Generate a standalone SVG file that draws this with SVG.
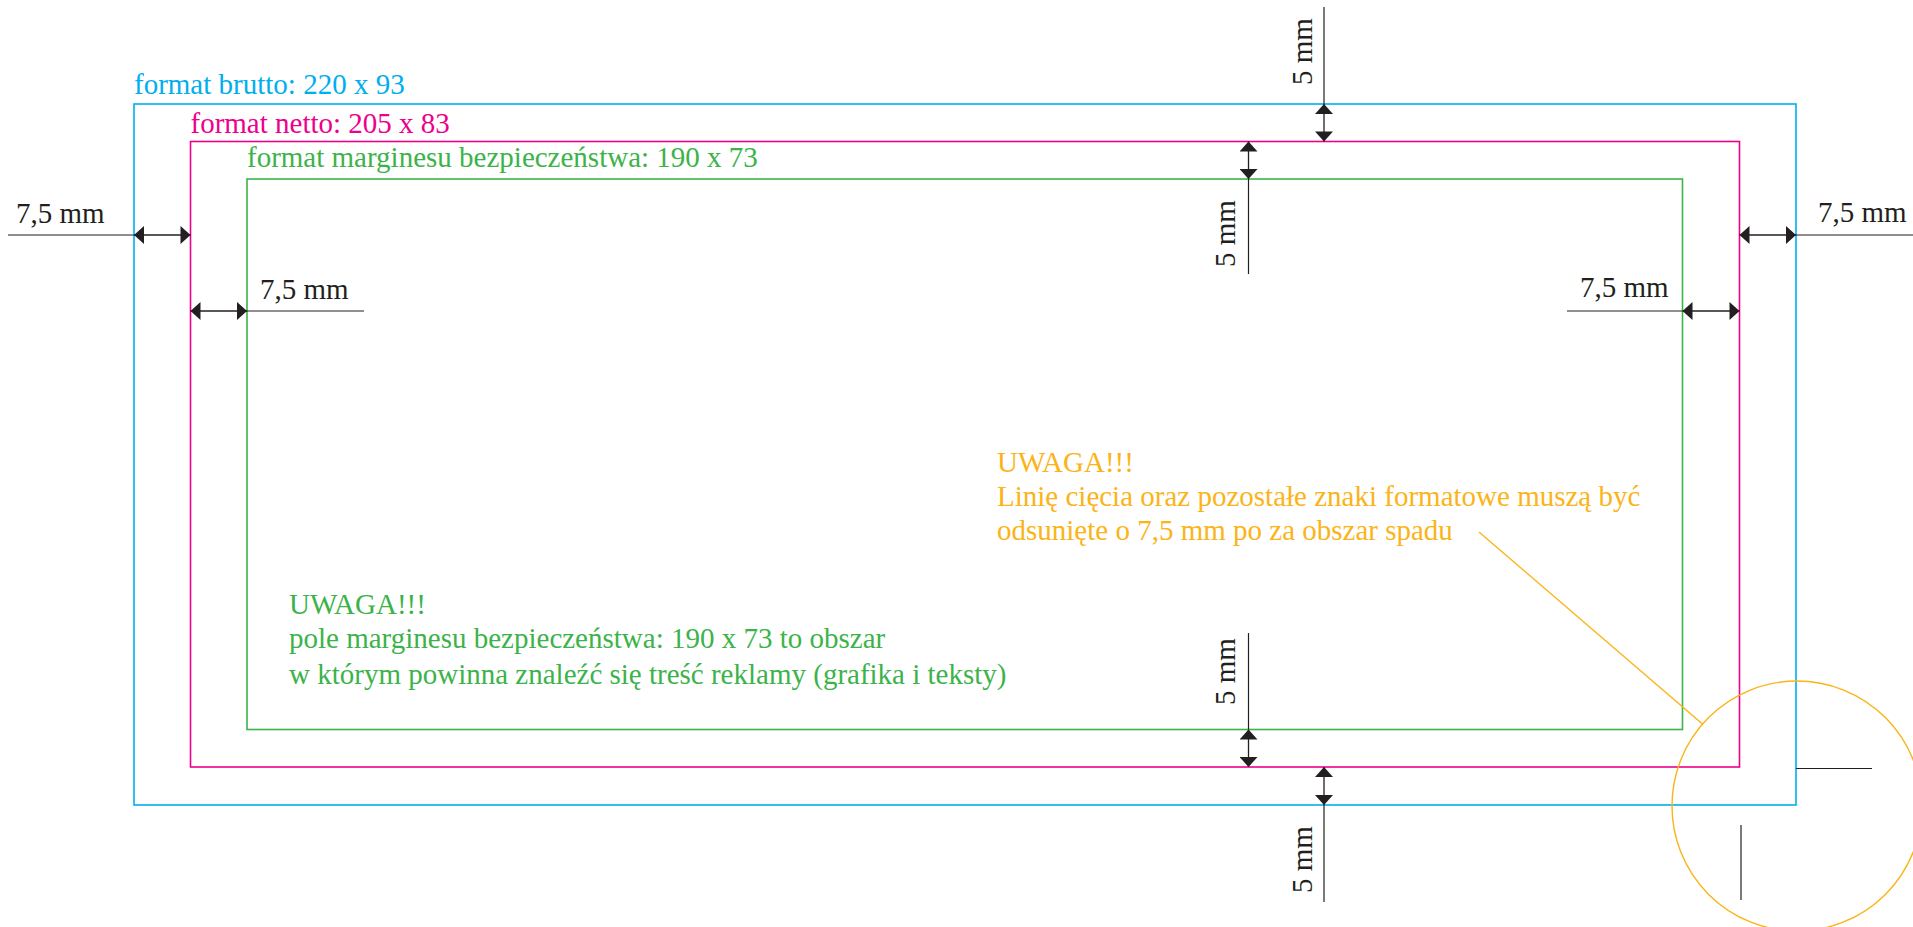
<svg xmlns="http://www.w3.org/2000/svg" width="1913" height="927" viewBox="0 0 1913 927">
<style>
text{font-family:"Liberation Serif","Times New Roman",serif;font-size:29px}
.dim{fill:#231f20}
.tb{fill:#00aeef}.tm{fill:#ec008c}.tg{fill:#3cb34a}.to{fill:#fbb418}
.fr{fill:none;stroke-width:1.6}
.ln{stroke:#231f20;stroke-width:1.2;fill:none}
.ar{stroke:#231f20;stroke-width:1.3;fill:none;marker-start:url(#ah);marker-end:url(#ah)}
</style>
<defs>
<marker id="ah" markerUnits="userSpaceOnUse" markerWidth="11" markerHeight="18" refX="10" refY="9" orient="auto-start-reverse" viewBox="0 0 10 18">
<path d="M0,0 L10,9 L0,18 z" fill="#231f20"/>
</marker>
</defs>
<rect width="1913" height="927" fill="#fff"/>
<g id="brutto">
<rect class="fr" x="134" y="104" width="1662" height="701" stroke="#00aeef"/>
<text class="tb" x="134" y="94">format brutto: 220 x 93</text>
</g>
<g id="netto">
<rect class="fr" x="190.5" y="141.5" width="1549" height="625.5" stroke="#ec008c"/>
<text class="tm" x="190.5" y="133">format netto: 205 x 83</text>
</g>
<g id="margines">
<rect class="fr" x="247" y="179" width="1435.5" height="550.5" stroke="#3cb34a"/>
<text class="tg" x="247" y="167">format marginesu bezpieczeństwa: 190 x 73</text>
</g>
<g id="uwaga-green">
<text class="tg" x="289" y="614">UWAGA!!!</text>
<text class="tg" x="289" y="648">pole marginesu bezpieczeństwa: 190 x 73 to obszar</text>
<text class="tg" x="289" y="684">w którym powinna znaleźć się treść reklamy (grafika i teksty)</text>
</g>
<g id="uwaga-orange">
<text class="to" x="997" y="472">UWAGA!!!</text>
<text class="to" x="997" y="506">Linię cięcia oraz pozostałe znaki formatowe muszą być</text>
<text class="to" x="997" y="540">odsunięte o 7,5 mm po za obszar spadu</text>
</g>
<g id="corner-detail">
<circle cx="1797" cy="806" r="125" fill="none" stroke="#fbb418" stroke-width="1.4"/>
<line class="ln" x1="1796" y1="768.5" x2="1872" y2="768.5"/>
<line class="ln" x1="1741" y1="825" x2="1741" y2="900"/>
</g>
<g id="labels">
<text class="dim" x="16" y="223">7,5 mm</text>
<text class="dim" x="1818" y="222">7,5 mm</text>
<text class="dim" x="260" y="299">7,5 mm</text>
<text class="dim" x="1580" y="297">7,5 mm</text>
<text class="dim" transform="translate(1311.5,85) rotate(-90)">5 mm</text>
<text class="dim" transform="translate(1235,267) rotate(-90)">5 mm</text>
<text class="dim" transform="translate(1235,705) rotate(-90)">5 mm</text>
<text class="dim" transform="translate(1311.5,893) rotate(-90)">5 mm</text>
</g>
<g id="connectors">
<line class="ln" x1="8" y1="235" x2="134" y2="235"/>
<line class="ar" x1="134" y1="235" x2="190.5" y2="235"/>
<line class="ln" x1="1796" y1="235" x2="1913" y2="235"/>
<line class="ar" x1="1739.5" y1="235" x2="1796" y2="235"/>
<line class="ln" x1="247" y1="311" x2="364" y2="311"/>
<line class="ar" x1="190.5" y1="311" x2="247" y2="311"/>
<line class="ln" x1="1567" y1="311" x2="1682.5" y2="311"/>
<line class="ar" x1="1682.5" y1="311" x2="1739.5" y2="311"/>
<line class="ln" x1="1324" y1="7" x2="1324" y2="104"/>
<line class="ar" x1="1324" y1="104" x2="1324" y2="141.5"/>
<line class="ln" x1="1248.5" y1="179" x2="1248.5" y2="274"/>
<line class="ar" x1="1248.5" y1="141.5" x2="1248.5" y2="179"/>
<line class="ln" x1="1248.5" y1="633" x2="1248.5" y2="729.5"/>
<line class="ar" x1="1248.5" y1="729.5" x2="1248.5" y2="767"/>
<line class="ln" x1="1324" y1="805" x2="1324" y2="902"/>
<line class="ar" x1="1324" y1="767" x2="1324" y2="805"/>
<line x1="1479" y1="532" x2="1702.5" y2="724" stroke="#fbb418" stroke-width="1.4"/>
</g>
</svg>
